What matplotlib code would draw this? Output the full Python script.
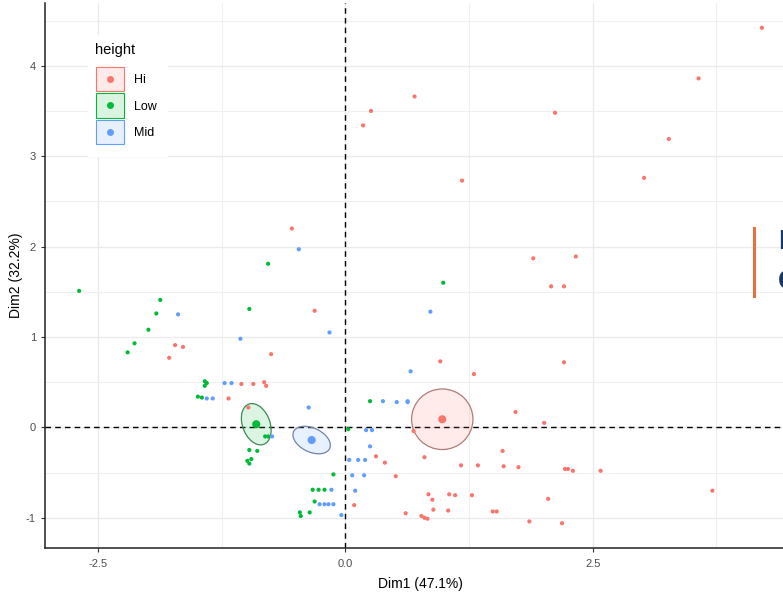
import numpy as np
import matplotlib
matplotlib.use("Agg")
import matplotlib.pyplot as plt
from matplotlib.patches import Ellipse, Rectangle
from matplotlib.lines import Line2D
from matplotlib.ticker import MultipleLocator, FormatStrFormatter

plt.rcParams['font.family'] = ['Liberation Sans', 'DejaVu Sans']
plt.rcParams['axes.unicode_minus'] = False

# PCA individuals, coloured by height group
groups = ['Hi', 'Low', 'Mid']
colors = {'Hi': '#F8766D', 'Low': '#00BA38', 'Mid': '#619CFF'}
edge_colors = {'Hi': '#B07C78', 'Low': '#3C8A55', 'Mid': '#6F86A8'}

hi_x = [4.21, 3.57, 3.27, 3.02, 0.70, 0.26, 0.18, 2.12, 1.18, 2.33, 1.90, 2.08, 2.21,
        -0.54, -0.31, -1.72, -1.64, -1.78, -0.75, -1.05, -0.93, -0.82, -0.80, -1.18, -0.98,
        0.31, 0.40, 0.09, 0.51, 0.96, 1.30, 2.21, 1.72, 2.01, 0.69, 0.80, 1.59, 1.17, 1.34,
        1.60, 1.75, 2.22, 2.25, 2.30, 2.58, 3.71, 0.84, 0.88, 1.05, 1.11, 1.28, 2.05, 0.89,
        1.04, 0.61, 0.77, 0.80, 0.83, 1.49, 1.53, 1.86, 2.19]
hi_y = [4.42, 3.86, 3.19, 2.76, 3.66, 3.50, 3.34, 3.48, 2.73, 1.89, 1.87, 1.56, 1.56,
        2.20, 1.29, 0.91, 0.89, 0.77, 0.81, 0.48, 0.48, 0.50, 0.46, 0.32, 0.22,
        -0.32, -0.39, -0.86, -0.54, 0.73, 0.59, 0.72, 0.17, 0.05, -0.04, -0.33, -0.26, -0.42, -0.42,
        -0.43, -0.44, -0.46, -0.46, -0.48, -0.48, -0.70, -0.74, -0.80, -0.74, -0.75, -0.75, -0.79, -0.91,
        -0.92, -0.95, -0.98, -1.00, -1.01, -0.93, -0.93, -1.04, -1.06]

low_x = [-2.69, -1.87, -1.91, -1.99, -2.13, -2.20, -0.78, -0.97, 0.99, -1.42, -1.42, -1.40,
         -1.49, -1.45, -0.81, -0.78, -0.97, -0.89, -0.99, -0.95, -0.97, -0.12, -0.33, -0.27,
         -0.21, -0.31, -0.46, -0.45, -0.36, 0.03, 0.25]
low_y = [1.51, 1.41, 1.26, 1.08, 0.93, 0.83, 1.81, 1.31, 1.60, 0.51, 0.46, 0.49,
         0.34, 0.33, -0.10, -0.10, -0.25, -0.26, -0.37, -0.35, -0.40, -0.52, -0.69, -0.69,
         -0.69, -0.82, -0.94, -0.98, -0.94, -0.02, 0.29]

mid_x = [-0.47, -1.69, -1.06, -0.16, 0.86, 0.66, 0.63, -1.22, -1.15, -1.40, -1.34, -0.37,
         -0.74, -0.14, -0.26, -0.21, -0.17, -0.12, -0.04, 0.38, 0.52, 0.63, 0.21, 0.27,
         0.25, 0.04, 0.13, 0.20, 0.07, 0.19, 0.10]
mid_y = [1.97, 1.25, 0.98, 1.05, 1.28, 0.62, 0.29, 0.49, 0.49, 0.32, 0.32, 0.22,
         -0.10, -0.69, -0.85, -0.85, -0.85, -0.85, -0.97, 0.29, 0.28, 0.28, -0.03, -0.03,
         -0.21, -0.36, -0.36, -0.36, -0.53, -0.53, -0.70]

# group centres and confidence ellipses: (cx, cy, width, height, angle)
centroids = {'Hi': (0.98, 0.09), 'Low': (-0.90, 0.035), 'Mid': (-0.34, -0.14)}
ellipses = {'Hi': (0.98, 0.09, 0.62, 0.67, 0),
            'Low': (-0.90, 0.035, 0.47, 0.28, 107),
            'Mid': (-0.34, -0.14, 0.41, 0.26, -30)}

points = {'Hi': (hi_x, hi_y), 'Low': (low_x, low_y), 'Mid': (mid_x, mid_y)}

W, H = 783, 594
fig = plt.figure(figsize=(W / 100, H / 100), dpi=100)
ax = fig.add_axes([45 / W, (H - 548) / H, (796 - 45) / W, (548 - 3) / H])

all_x = hi_x + low_x + mid_x
all_y = hi_y + low_y + mid_y
rx = max(all_x) - min(all_x)
ry = max(all_y) - min(all_y)
ax.set_xlim(min(all_x) - 0.05 * rx, max(all_x) + 0.05 * rx)
ax.set_ylim(min(all_y) - 0.05 * ry, max(all_y) + 0.05 * ry)

ax.xaxis.set_major_locator(MultipleLocator(2.5))
ax.xaxis.set_minor_locator(MultipleLocator(1.25))
ax.yaxis.set_major_locator(MultipleLocator(1))
ax.yaxis.set_minor_locator(MultipleLocator(0.5))
ax.xaxis.set_major_formatter(FormatStrFormatter('%.1f'))
ax.yaxis.set_major_formatter(FormatStrFormatter('%d'))
ax.grid(which='major', color='#EBEBEB', lw=1.0)
ax.grid(which='minor', color='#F0F0F0', lw=0.8)
ax.set_axisbelow(True)

for s in ['top', 'right']:
    ax.spines[s].set_visible(False)
for s in ['left', 'bottom']:
    ax.spines[s].set_color('#222222')
    ax.spines[s].set_linewidth(1.1)
ax.tick_params(which='major', length=3, width=0.8, color='#333333',
               labelsize=8, labelcolor='#4D4D4D')
ax.tick_params(axis='x', which='major', pad=5)
ax.tick_params(which='minor', length=0)

ax.axhline(0, color='black', lw=1.0, ls=(0, (4, 3)), zorder=1)
ax.axvline(0, color='black', lw=1.0, ls=(0, (4, 3)), zorder=1)

for g in groups:
    cx, cy, w, h, ang = ellipses[g]
    ax.add_patch(Ellipse((cx, cy), w, h, angle=ang, facecolor=colors[g], alpha=0.14,
                         edgecolor='none', zorder=2))
    ax.add_patch(Ellipse((cx, cy), w, h, angle=ang, facecolor='none',
                         edgecolor=edge_colors[g], lw=0.9, zorder=2))
    xs, ys = points[g]
    ax.scatter(xs, ys, s=9, color=colors[g], edgecolors='none', zorder=3)
    ax.scatter(*centroids[g], s=34, color=colors[g], edgecolors='none', zorder=4)

ax.set_xlabel('Dim1 (47.1%)', fontsize=10, labelpad=6)
ax.set_ylabel('Dim2 (32.2%)', fontsize=10)
ax.yaxis.set_label_coords(-0.029, 0.5)


def fx(px):
    return px / W


def fy(py):
    return 1 - py / H


# legend block
fig.add_artist(Rectangle((fx(88), fy(157)), 80 / W, 122 / H, transform=fig.transFigure,
                         facecolor='white', edgecolor='none', zorder=5))
fig.text(fx(95), fy(50), 'height', fontsize=10.5, va='center', ha='left', zorder=6)
for i, g in enumerate(groups):
    yc = 79 + i * 26.5
    fig.add_artist(Rectangle((fx(96), fy(yc + 12)), 28 / W, 24 / H, transform=fig.transFigure,
                             facecolor=colors[g], alpha=0.15, edgecolor='none', zorder=6))
    fig.add_artist(Rectangle((fx(96), fy(yc + 12)), 28 / W, 24 / H, transform=fig.transFigure,
                             facecolor='none', edgecolor=colors[g], lw=0.8, zorder=6))
    fig.add_artist(Line2D([fx(110)], [fy(yc)], marker='o', ms=5, color=colors[g],
                          mec='none', transform=fig.transFigure, zorder=7))
    fig.text(fx(134), fy(yc + 1), g, fontsize=9, va='center', ha='left', zorder=7)

# side note marker on the right
fig.add_artist(Line2D([fx(754), fx(754)], [fy(228), fy(296)], color='#E4713F', lw=2.2,
                      transform=fig.transFigure))
fig.text(fx(778), fy(242), 'N', fontsize=20, fontweight='bold', color='#1B3768',
         va='center', ha='left')
fig.text(fx(778), fy(282), 'C', fontsize=20, fontweight='bold', color='#1B3768',
         va='center', ha='left')

fig.savefig('out.png', dpi=100)
